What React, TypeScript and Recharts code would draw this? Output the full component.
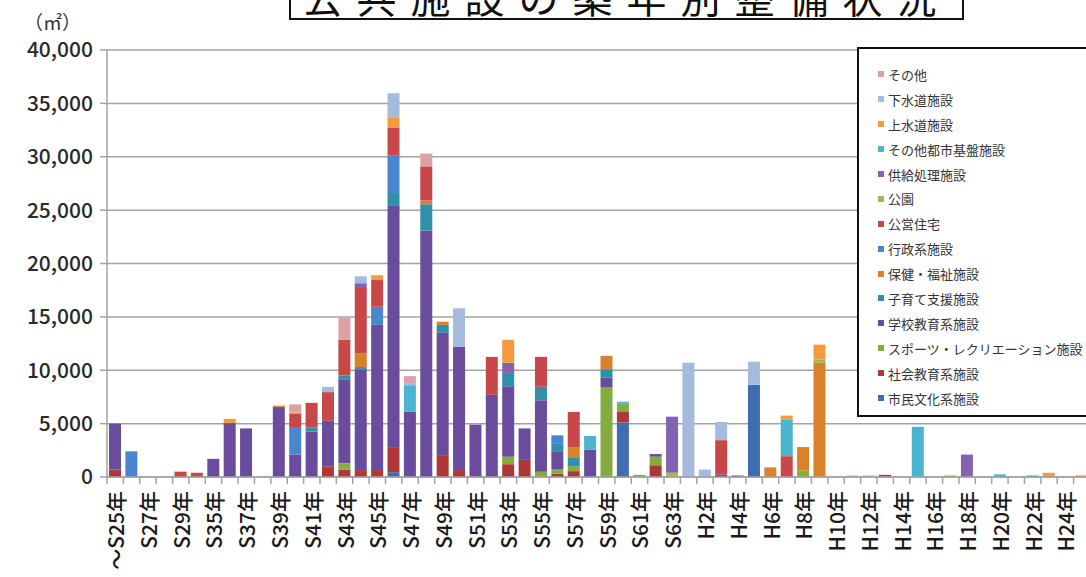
import React from 'react';
import { BarChart, Bar, XAxis, YAxis, CartesianGrid } from 'recharts';

// 築年（カテゴリ）: ~S25年 から H25年 まで 60 区分
const categories = [
  '～S25年', 'S26年', 'S27年', 'S28年', 'S29年', 'S34年', 'S35年', 'S36年', 'S37年', 'S38年',
  'S39年', 'S40年', 'S41年', 'S42年', 'S43年', 'S44年', 'S45年', 'S46年', 'S47年', 'S48年',
  'S49年', 'S50年', 'S51年', 'S52年', 'S53年', 'S54年', 'S55年', 'S56年', 'S57年', 'S58年',
  'S59年', 'S60年', 'S61年', 'S62年', 'S63年', 'H1年', 'H2年', 'H3年', 'H4年', 'H5年',
  'H6年', 'H7年', 'H8年', 'H9年', 'H10年', 'H11年', 'H12年', 'H13年', 'H14年', 'H15年',
  'H16年', 'H17年', 'H18年', 'H19年', 'H20年', 'H21年', 'H22年', 'H23年', 'H24年', 'H25年',
];

const yTicks = [0, 5000, 10000, 15000, 20000, 25000, 30000, 35000, 40000];

// 延床面積（㎡）— 系列ごと、下から積み上げる順
const shiminBunka = [
  0, 0, 0, 0, 0, 0, 0, 0, 0, 0,
  0, 0, 0, 0, 0, 0, 0, 450, 0, 0,
  0, 0, 0, 0, 0, 0, 0, 0, 0, 0,
  0, 5100, 0, 0, 0, 0, 0, 0, 0, 8650,
  0, 0, 0, 0, 0, 0, 0, 0, 0, 0,
  0, 0, 0, 0, 0, 0, 0, 0, 0, 0,
];
const shakaiKyoiku = [
  700, 0, 0, 0, 0, 0, 0, 0, 0, 0,
  0, 0, 0, 1000, 700, 650, 650, 2350, 0, 0,
  2050, 650, 0, 0, 1200, 1600, 0, 300, 550, 0,
  0, 1050, 0, 1100, 0, 0, 0, 0, 0, 0,
  0, 0, 0, 0, 0, 0, 0, 200, 0, 0,
  0, 0, 0, 0, 0, 0, 0, 0, 0, 0,
];
const sports = [
  0, 0, 0, 0, 0, 0, 0, 0, 0, 0,
  0, 0, 0, 0, 600, 0, 0, 0, 0, 0,
  0, 0, 0, 0, 700, 0, 500, 450, 450, 0,
  8400, 700, 200, 800, 0, 0, 0, 0, 0, 0,
  0, 0, 600, 0, 0, 0, 0, 0, 0, 0,
  0, 0, 0, 0, 0, 0, 0, 0, 0, 0,
];
const gakko = [
  4300, 0, 0, 0, 0, 0, 1700, 5050, 4550, 0,
  6550, 2100, 4250, 4300, 7800, 9450, 13600, 22650, 6100, 23100,
  11450, 11550, 4900, 7700, 6600, 2950, 6700, 1600, 0, 2550,
  900, 0, 0, 250, 0, 0, 0, 250, 0, 0,
  0, 0, 0, 0, 0, 0, 0, 0, 0, 0,
  0, 0, 0, 0, 0, 0, 0, 0, 0, 0,
];
const kosodate = [
  0, 0, 0, 0, 0, 0, 0, 0, 0, 0,
  0, 0, 400, 0, 400, 200, 0, 1150, 0, 2450,
  750, 0, 0, 0, 1250, 0, 1250, 750, 850, 0,
  800, 0, 0, 0, 0, 0, 0, 0, 0, 0,
  0, 0, 0, 0, 0, 0, 0, 0, 0, 0,
  0, 0, 0, 0, 0, 0, 0, 0, 0, 0,
];
const hokenFukushi = [
  0, 0, 0, 0, 0, 0, 0, 0, 0, 0,
  0, 0, 0, 0, 0, 1300, 0, 0, 0, 350,
  300, 0, 0, 0, 0, 0, 0, 0, 950, 0,
  1250, 0, 0, 0, 0, 0, 0, 0, 0, 0,
  900, 0, 2200, 10700, 0, 0, 0, 0, 0, 0,
  0, 0, 0, 0, 0, 0, 0, 0, 0, 0,
];
const gyosei = [
  0, 2400, 0, 0, 0, 0, 0, 0, 0, 0,
  0, 2500, 0, 0, 0, 0, 1700, 3550, 0, 0,
  0, 0, 0, 0, 0, 0, 0, 800, 0, 0,
  0, 0, 0, 0, 0, 0, 0, 0, 0, 0,
  0, 0, 0, 0, 0, 0, 0, 0, 0, 0,
  0, 0, 0, 0, 0, 0, 0, 0, 0, 0,
];
const koeiJutaku = [
  0, 0, 0, 0, 500, 400, 0, 0, 0, 0,
  0, 1300, 2300, 2650, 3350, 6100, 2500, 2600, 0, 3200,
  0, 0, 0, 3550, 0, 0, 2800, 0, 3300, 0,
  0, 0, 0, 0, 0, 0, 0, 3200, 0, 0,
  0, 1950, 0, 0, 0, 0, 0, 0, 0, 0,
  0, 0, 0, 0, 0, 0, 0, 0, 0, 0,
];
const koen = [
  0, 0, 0, 0, 0, 0, 0, 0, 0, 0,
  0, 0, 0, 0, 0, 0, 0, 0, 0, 0,
  0, 0, 0, 0, 0, 0, 0, 0, 0, 0,
  0, 0, 0, 0, 400, 0, 0, 0, 0, 0,
  0, 0, 0, 300, 0, 0, 0, 0, 0, 0,
  0, 150, 0, 0, 0, 0, 0, 0, 0, 0,
];
const kyokyuShori = [
  0, 0, 0, 0, 0, 0, 0, 0, 0, 0,
  0, 0, 0, 0, 0, 450, 0, 0, 0, 0,
  0, 0, 0, 0, 950, 0, 0, 0, 0, 0,
  0, 0, 0, 0, 5250, 0, 0, 0, 150, 0,
  0, 0, 0, 0, 0, 0, 0, 0, 0, 0,
  0, 0, 2100, 0, 0, 0, 0, 0, 0, 0,
];
const sonotaToshi = [
  0, 0, 0, 0, 0, 0, 0, 0, 0, 0,
  0, 0, 0, 0, 0, 0, 0, 0, 2500, 0,
  0, 0, 0, 0, 0, 0, 0, 0, 0, 1300,
  0, 200, 0, 0, 0, 0, 0, 0, 0, 0,
  0, 3400, 0, 0, 0, 0, 0, 0, 0, 4700,
  0, 0, 0, 0, 250, 0, 150, 0, 0, 0,
];
const josuido = [
  0, 0, 0, 0, 0, 0, 0, 400, 0, 0,
  150, 150, 0, 0, 0, 0, 450, 950, 0, 0,
  0, 0, 0, 0, 2150, 0, 0, 0, 0, 0,
  0, 0, 0, 0, 0, 0, 0, 0, 0, 0,
  0, 400, 0, 1400, 0, 0, 0, 0, 0, 0,
  0, 0, 0, 0, 0, 0, 0, 400, 0, 150,
];
const gesuido = [
  0, 0, 0, 0, 0, 0, 0, 0, 0, 0,
  0, 0, 0, 500, 0, 650, 0, 2250, 200, 0,
  0, 3600, 0, 0, 0, 0, 0, 0, 0, 0,
  0, 0, 0, 0, 0, 10700, 700, 1700, 0, 2150,
  0, 0, 0, 0, 80, 150, 150, 0, 0, 0,
  0, 0, 0, 0, 0, 0, 0, 0, 0, 0,
];
const sonota = [
  0, 0, 0, 0, 0, 0, 0, 0, 0, 0,
  0, 750, 0, 0, 2050, 0, 0, 0, 650, 1200,
  0, 0, 0, 0, 0, 0, 0, 0, 0, 0,
  0, 0, 0, 0, 0, 0, 0, 0, 0, 0,
  0, 0, 0, 0, 0, 0, 0, 0, 0, 0,
  0, 0, 0, 0, 0, 0, 0, 0, 0, 0,
];

const SERIES = [
  { key: 'shiminBunka', name: '市民文化系施設', color: '#3F6DB0', values: shiminBunka },
  { key: 'shakaiKyoiku', name: '社会教育系施設', color: '#AE3838', values: shakaiKyoiku },
  { key: 'sports', name: 'スポーツ・レクリエーション施設', color: '#84AC3E', values: sports },
  { key: 'gakko', name: '学校教育系施設', color: '#6A4C9C', values: gakko },
  { key: 'kosodate', name: '子育て支援施設', color: '#2F90A8', values: kosodate },
  { key: 'hokenFukushi', name: '保健・福祉施設', color: '#D9822B', values: hokenFukushi },
  { key: 'gyosei', name: '行政系施設', color: '#4A85CF', values: gyosei },
  { key: 'koeiJutaku', name: '公営住宅', color: '#C8484A', values: koeiJutaku },
  { key: 'koen', name: '公園', color: '#9BBB59', values: koen },
  { key: 'kyokyuShori', name: '供給処理施設', color: '#8462B2', values: kyokyuShori },
  { key: 'sonotaToshi', name: 'その他都市基盤施設', color: '#4BB4D0', values: sonotaToshi },
  { key: 'josuido', name: '上水道施設', color: '#F79A3E', values: josuido },
  { key: 'gesuido', name: '下水道施設', color: '#A4BBDD', values: gesuido },
  { key: 'sonota', name: 'その他', color: '#DDA0A4', values: sonota },
];

const chartData = categories.map((cat, i) => {
  const row: Record<string, string | number> = { cat };
  SERIES.forEach((s) => {
    row[s.key] = s.values[i];
  });
  return row;
});

const FONT = '"Noto Sans CJK JP", "Noto Sans", sans-serif';
const AXIS_GRAY = '#a3a3a3';

const XTick = (props: any) => {
  const { x, y, payload, index } = props;
  const half = payload && payload.offset ? payload.offset : 8.19;
  const left = x - half;
  return (
    <g>
      <line x1={left} y1={y} x2={left} y2={y + 7} stroke={AXIS_GRAY} strokeWidth={1.5} />
      {index === categories.length - 1 && (
        <line x1={x + half} y1={y} x2={x + half} y2={y + 7} stroke={AXIS_GRAY} strokeWidth={1.5} />
      )}
      {index % 2 === 0 && (
        <text
          x={x}
          y={y + 14}
          transform={`rotate(-90, ${x}, ${y + 14})`}
          textAnchor="end"
          dominantBaseline="central"
          fontSize={21}
          fontWeight={500}
          fontFamily={FONT}
          fill="#1a1a1a"
        >
          {payload.value}
        </text>
      )}
    </g>
  );
};

const App: React.FC = () => {
  return (
    <div
      style={{
        position: 'absolute',
        left: 0,
        top: 0,
        width: 1086,
        height: 577,
        overflow: 'hidden',
        background: '#fff',
        fontFamily: FONT,
      }}
    >
      <BarChart
        width={1090}
        height={577}
        data={chartData}
        margin={{ top: 50, right: 0, left: 0, bottom: 0 }}
        barSize={12}
      >
        <CartesianGrid vertical={false} stroke={AXIS_GRAY} strokeWidth={1.5} />
        <XAxis
          dataKey="cat"
          interval={0}
          height={100}
          tickSize={0}
          tickMargin={0}
          tickLine={false}
          axisLine={{ stroke: AXIS_GRAY, strokeWidth: 1.5 }}
          tick={<XTick />}
        />
        <YAxis
          width={107}
          domain={[0, 40000]}
          ticks={yTicks}
          interval={0}
          tickSize={7}
          tickMargin={7}
          tickLine={{ stroke: AXIS_GRAY, strokeWidth: 1.5 }}
          axisLine={{ stroke: AXIS_GRAY, strokeWidth: 1.5 }}
          tickFormatter={(v: number) => v.toLocaleString('en-US')}
          tick={{ fill: '#2a2a2a', fontSize: 21, fontWeight: 500, fontFamily: FONT }}
        />
        {SERIES.map((s) => (
          <Bar key={s.key} dataKey={s.key} name={s.name} stackId="a" fill={s.color} isAnimationActive={false} />
        ))}
      </BarChart>

      {/* タイトル（上が切れている） */}
      <div
        style={{
          position: 'absolute',
          left: 289,
          top: -40,
          width: 671,
          height: 54,
          border: '2px solid #111',
          background: '#fff',
          display: 'flex',
          alignItems: 'flex-end',
          justifyContent: 'center',
          fontSize: 40,
          lineHeight: 1,
          letterSpacing: 14,
          paddingBottom: 2,
          boxSizing: 'content-box',
          color: '#111',
        }}
      >
        公共施設の築年別整備状況
      </div>

      {/* 単位 */}
      <div style={{ position: 'absolute', left: 24, top: 8, fontSize: 19, color: '#333' }}>（㎡）</div>

      {/* 凡例 */}
      <div
        style={{
          position: 'absolute',
          left: 857,
          top: 47,
          width: 250,
          height: 370,
          border: '2px solid #111',
          background: '#fff',
          paddingTop: 13,
          boxSizing: 'border-box',
        }}
      >
        {[...SERIES].reverse().map((s) => (
          <div
            key={s.key}
            style={{ display: 'flex', alignItems: 'center', height: 24.9, paddingLeft: 19, fontSize: 13, color: '#333' }}
          >
            <span style={{ width: 6, height: 6, background: s.color, marginRight: 4, display: 'inline-block' }} />
            {s.name}
          </div>
        ))}
      </div>
    </div>
  );
};

export default App;
